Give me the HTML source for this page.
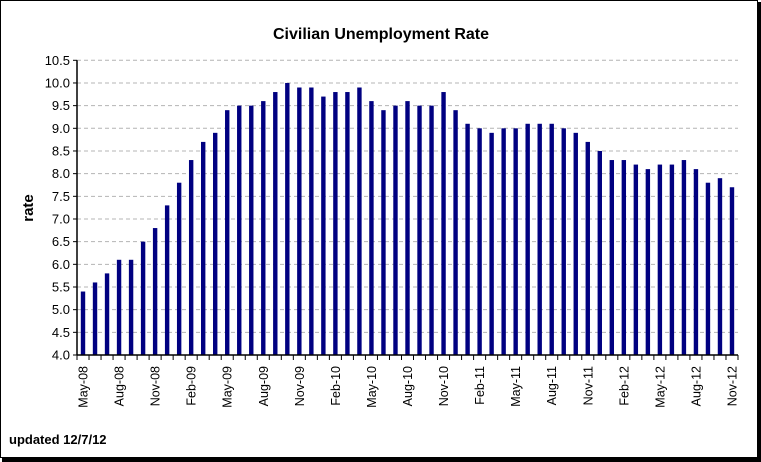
<!DOCTYPE html>
<html><head><meta charset="utf-8"><style>
html,body{margin:0;padding:0;background:#fff}
svg{display:block}
text{font-family:"Liberation Sans",Arial,sans-serif}
</style></head><body>
<svg id="s" width="761" height="462" xmlns="http://www.w3.org/2000/svg">
<rect x="0" y="0" width="761" height="462" fill="#fff"/>
<rect x="0.5" y="0.5" width="757" height="457" fill="none" stroke="#000" stroke-width="1"/>
<rect x="757" y="2" width="4" height="460" fill="#000"/>
<rect x="2" y="458" width="759" height="4" fill="#000"/>
<text x="381" y="39" text-anchor="middle" font-size="16" font-weight="bold">Civilian Unemployment Rate</text>
<text transform="translate(33,208) rotate(-90)" text-anchor="middle" font-size="15" font-weight="bold">rate</text>
<text x="9" y="444" font-size="13" font-weight="bold">updated 12/7/12</text>
<g id="g"></g>
</svg>
<script>
var v=[5.4,5.6,5.8,6.1,6.1,6.5,6.8,7.3,7.8,8.3,8.7,8.9,9.4,9.5,9.5,9.6,9.8,10.0,9.9,9.9,9.7,9.8,9.8,9.9,9.6,9.4,9.5,9.6,9.5,9.5,9.8,9.4,9.1,9.0,8.9,9.0,9.0,9.1,9.1,9.1,9.0,8.9,8.7,8.5,8.3,8.3,8.2,8.1,8.2,8.2,8.3,8.1,7.8,7.9,7.7];
var x0=77,x1=738,y0=355,yt=60.3,n=55,w=(x1-x0)/n,k=(y0-yt)/6.5;
var h='';
for(var i=0;i<=13;i++){var val=4+i*0.5,y=y0-i*0.5*k;
 if(i>0)h+='<line x1="'+x0+'" x2="'+x1+'" y1="'+y+'" y2="'+y+'" stroke="#b4b4b4" stroke-dasharray="4,3"/>';
 h+='<line x1="'+(x0-4)+'" x2="'+x0+'" y1="'+y+'" y2="'+y+'" stroke="#000"/>';
 h+='<text x="'+(x0-7)+'" y="'+(y+4.5)+'" text-anchor="end" font-size="13">'+val.toFixed(1)+'</text>';}
for(var i=0;i<n;i++){var c=x0+w*(i+0.5),bh=(v[i]-4)*k;
 h+='<rect x="'+(c-2.2)+'" y="'+(y0-bh)+'" width="4.4" height="'+bh+'" fill="#000080"/>';}
for(var i=0;i<=n;i++){var x=x0+w*i;h+='<line x1="'+x+'" x2="'+x+'" y1="'+y0+'" y2="'+(y0+5)+'" stroke="#000"/>';}
h+='<line x1="'+x0+'" x2="'+x0+'" y1="'+yt+'" y2="'+y0+'" stroke="#000" stroke-width="1.5"/>';
h+='<line x1="'+x0+'" x2="'+x1+'" y1="'+y0+'" y2="'+y0+'" stroke="#000" stroke-width="1.5"/>';
var m=['May','Aug','Nov','Feb'];
for(var i=0;i<n;i+=3){var c=x0+w*(i+0.5)+4.5,mi=(i/3)%4,yr=8+Math.floor((i+4)/12);
 h+='<text transform="translate('+c+',366) rotate(-90)" text-anchor="end" font-size="12.5">'+m[mi]+'-'+(yr<10?'0':'')+yr+'</text>';}
document.getElementById('g').innerHTML=h;
</script>
</body></html>
